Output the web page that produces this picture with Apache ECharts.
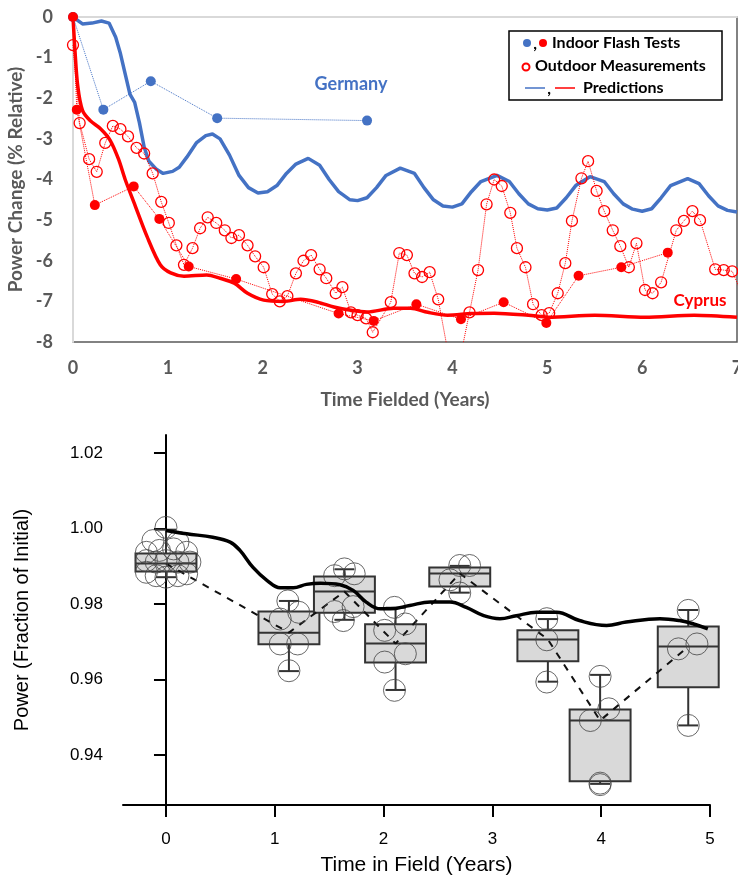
<!DOCTYPE html>
<html>
<head>
<meta charset="utf-8">
<script src="https://cdn.jsdelivr.net/npm/echarts@6/dist/echarts.min.js"></script>
<style>
  html, body { margin: 0; padding: 0; background: #fff; }
  #chart { width: 738px; height: 875px; }
</style>
</head>
<body>
<div id="chart"></div>
<script>
// ---- top panel: power change vs time fielded ----
var germanyPred = [[0,0],[0.1,-0.17],[0.2,-0.15],[0.3,-0.1],[0.38,-0.15],[0.45,-0.5],[0.5,-0.9],[0.55,-1.4],[0.6,-1.9],[0.65,-2.1],[0.7,-2.6],[0.75,-3.2],[0.8,-3.55],[0.88,-3.75],[0.95,-3.85],[1.05,-3.8],[1.12,-3.7],[1.2,-3.45],[1.3,-3.1],[1.4,-2.92],[1.47,-2.88],[1.55,-3.0],[1.65,-3.4],[1.75,-3.9],[1.85,-4.2],[1.95,-4.33],[2.05,-4.3],[2.15,-4.15],[2.25,-3.85],[2.35,-3.62],[2.48,-3.48],[2.6,-3.65],[2.7,-4.0],[2.8,-4.3],[2.92,-4.5],[3.0,-4.52],[3.1,-4.45],[3.2,-4.2],[3.3,-3.9],[3.45,-3.72],[3.6,-3.85],[3.7,-4.2],[3.8,-4.5],[3.9,-4.65],[4.0,-4.68],[4.1,-4.6],[4.2,-4.3],[4.3,-4.05],[4.47,-3.9],[4.6,-4.05],[4.7,-4.35],[4.8,-4.6],[4.9,-4.72],[5.0,-4.75],[5.1,-4.7],[5.2,-4.45],[5.3,-4.15],[5.45,-3.93],[5.6,-4.05],[5.7,-4.35],[5.8,-4.6],[5.9,-4.73],[6.0,-4.78],[6.1,-4.72],[6.2,-4.45],[6.3,-4.15],[6.48,-3.98],[6.6,-4.1],[6.7,-4.4],[6.8,-4.65],[6.9,-4.76],[7.0,-4.8]];
var cyprusPred = [[0,0],[0.02,-0.8],[0.05,-1.7],[0.1,-2.3],[0.18,-2.55],[0.29,-2.75],[0.39,-3.03],[0.48,-3.5],[0.55,-4.0],[0.64,-4.55],[0.78,-5.4],[0.92,-6.1],[1.03,-6.3],[1.17,-6.38],[1.41,-6.35],[1.55,-6.43],[1.7,-6.55],[1.84,-6.8],[2.01,-6.97],[2.22,-7.0],[2.4,-6.95],[2.58,-7.02],[2.75,-7.14],[2.93,-7.22],[3.1,-7.26],[3.38,-7.17],[3.56,-7.17],[3.74,-7.27],[3.95,-7.34],[4.2,-7.3],[4.44,-7.29],[4.8,-7.34],[5.01,-7.39],[5.5,-7.34],[6.03,-7.39],[6.55,-7.34],[7.0,-7.39]];
var germanyFlash = [[0,0],[0.32,-2.28],[0.82,-1.58],[1.52,-2.49],[3.1,-2.55]];
var cyprusFlash = [[0,0],[0.04,-2.28],[0.23,-4.63],[0.64,-4.17],[0.91,-4.97],[1.22,-6.14],[1.72,-6.45],[2.8,-7.3],[3.17,-7.48],[3.62,-7.07],[4.09,-7.44],[4.54,-7.02],[4.99,-7.53],[5.33,-6.37],[5.78,-6.16],[6.27,-5.8]];
var cyprusOutdoor = [[0,-0.69],[0.07,-2.61],[0.17,-3.5],[0.25,-3.81],[0.34,-3.1],[0.42,-2.68],[0.5,-2.76],[0.58,-2.94],[0.67,-3.22],[0.75,-3.36],[0.84,-3.85],[0.93,-4.55],[1.01,-5.07],[1.09,-5.62],[1.17,-6.1],[1.26,-5.69],[1.34,-5.2],[1.42,-4.93],[1.51,-5.07],[1.6,-5.25],[1.67,-5.44],[1.75,-5.37],[1.84,-5.62],[1.92,-5.89],[2.01,-6.16],[2.1,-6.82],[2.18,-7.0],[2.26,-6.87],[2.35,-6.31],[2.43,-6.0],[2.51,-5.86],[2.6,-6.21],[2.67,-6.43],[2.77,-6.8],[2.84,-6.65],[2.93,-7.27],[3.0,-7.34],[3.09,-7.42],[3.16,-7.76],[3.35,-7.02],[3.44,-5.81],[3.52,-5.86],[3.6,-6.31],[3.68,-6.4],[3.76,-6.28],[3.85,-6.95],[4.02,-9.1],[4.18,-7.27],[4.27,-6.23],[4.36,-4.61],[4.44,-4.0],[4.52,-4.16],[4.61,-4.82],[4.68,-5.69],[4.77,-6.16],[4.85,-7.07],[4.94,-7.34],[5.02,-7.29],[5.11,-6.8],[5.19,-6.06],[5.26,-5.02],[5.36,-3.97],[5.43,-3.55],[5.52,-4.28],[5.6,-4.78],[5.69,-5.25],[5.77,-5.64],[5.86,-6.16],[5.94,-5.57],[6.03,-6.72],[6.11,-6.8],[6.2,-6.53],[6.36,-5.25],[6.44,-5.02],[6.53,-4.78],[6.61,-5.0],[6.77,-6.21],[6.86,-6.23],[6.95,-6.26],[7.04,-6.75]];

// ---- bottom panel: power fraction vs time in field ----
var xTicks = [0, 1, 2, 3, 4, 5];
var yTicks = [0.94, 0.96, 0.98, 1.00, 1.02];
// [year, whisker low, q1, median, q3, whisker high]
var boxStats = [
  [0, 0.9871, 0.9886, 0.9907, 0.9934, 0.9997],
  [1.13, 0.9622, 0.9693, 0.9724, 0.9780, 0.9808],
  [1.64, 0.9758, 0.9777, 0.9833, 0.9873, 0.9892],
  [2.11, 0.9572, 0.9645, 0.9695, 0.9746, 0.9790],
  [2.70, 0.9830, 0.9846, 0.9881, 0.9897, 0.9901],
  [3.51, 0.9594, 0.9648, 0.9706, 0.9730, 0.9760],
  [3.99, 0.9323, 0.9330, 0.9491, 0.9520, 0.9612],
  [4.80, 0.9478, 0.9579, 0.9687, 0.9740, 0.9784]
];
var fieldPoints = [
  [0.0,1.0003],[-0.12,0.9968],[0.11,0.9964],[-0.18,0.9937],[-0.06,0.9942],[0.07,0.9946],[0.19,0.9937],
  [-0.18,0.9915],[-0.09,0.9911],[0.0,0.9915],[0.11,0.9911],[0.22,0.9911],
  [-0.18,0.9884],[-0.09,0.9875],[0.0,0.9871],[0.11,0.9875],[0.19,0.9880],
  [1.12,0.9808],[1.22,0.9778],[1.05,0.9760],[1.05,0.9694],[1.21,0.9694],[1.13,0.9623],
  [1.64,0.9893],[1.55,0.9875],[1.73,0.9880],[1.55,0.9780],[1.72,0.9793],[1.63,0.9756],
  [2.10,0.9791],[2.01,0.9730],[2.20,0.9747],[2.01,0.9646],[2.20,0.9668],[2.10,0.9571],
  [2.70,0.9902],[2.79,0.9902],[2.61,0.9864],[2.70,0.9829],
  [3.50,0.9761],[3.50,0.9705],[3.50,0.9593],
  [3.99,0.9608],[4.07,0.9522],[3.90,0.9491],[3.99,0.9325],[3.99,0.9321],
  [4.80,0.9783],[4.88,0.9694],[4.71,0.9681],[4.80,0.9478]
];
var fieldPred = [[0.0,0.9995],[0.19,0.9986],[0.43,0.9977],[0.59,0.9964],[0.68,0.9942],[0.8,0.9897],[0.93,0.9862],[1.05,0.9843],[1.17,0.9843],[1.29,0.9852],[1.42,0.9855],[1.6,0.9851],[1.72,0.9836],[1.84,0.9805],[1.97,0.9787],[2.06,0.9787],[2.24,0.9796],[2.43,0.9805],[2.61,0.9805],[2.76,0.9791],[2.92,0.9769],[3.07,0.9761],[3.22,0.9769],[3.41,0.9778],[3.59,0.9778],[3.8,0.9756],[4.05,0.9743],[4.23,0.9752],[4.54,0.9761],[4.72,0.9756],[4.85,0.9747],[4.98,0.9734]];

var blue = '#4472C4';
var red = '#FF0000';
var gray = '#595959';
var boxWidth = 0.56;

var medians = boxStats.map(function (b) { return [b[0], b[3]]; });

var chart = echarts.init(document.getElementById('chart'));

function renderBox(params, api) {
  var x = api.value(0);
  var lo = api.coord([x, api.value(1)]);
  var q1 = api.coord([x, api.value(2)]);
  var md = api.coord([x, api.value(3)]);
  var q3 = api.coord([x, api.value(4)]);
  var hi = api.coord([x, api.value(5)]);
  var w = api.size([boxWidth, 0])[0];
  var c = 10;
  var st = { stroke: '#333', lineWidth: 2 };
  return {
    type: 'group',
    children: [
      { type: 'line', shape: { x1: hi[0], y1: hi[1], x2: q3[0], y2: q3[1] }, style: st },
      { type: 'line', shape: { x1: q1[0], y1: q1[1], x2: lo[0], y2: lo[1] }, style: st },
      { type: 'line', shape: { x1: hi[0] - c, y1: hi[1], x2: hi[0] + c, y2: hi[1] }, style: st },
      { type: 'line', shape: { x1: lo[0] - c, y1: lo[1], x2: lo[0] + c, y2: lo[1] }, style: st },
      { type: 'rect', shape: { x: q3[0] - w / 2, y: q3[1], width: w, height: q1[1] - q3[1] },
        style: { fill: '#d9d9d9', stroke: '#333', lineWidth: 2 } },
      { type: 'line', shape: { x1: md[0] - w / 2, y1: md[1], x2: md[0] + w / 2, y2: md[1] }, style: st }
    ]
  };
}

var topFont = 'Lato';
var botFont = 'Liberation Sans';

chart.setOption({
  animation: false,
  backgroundColor: '#fff',
  grid: [
    { left: 73, top: 17, right: 1, bottom: 533, outerBoundsMode: 'none', show: true, borderColor: '#595959', borderWidth: 1.5 },
    { left: 123, top: 435, right: 28, bottom: 70, outerBoundsMode: 'none' }
  ],
  xAxis: [
    {
      gridIndex: 0, type: 'value', min: 0, max: 7, interval: 1,
      name: 'Time Fielded (Years)', nameLocation: 'middle', nameGap: 48,
      nameTextStyle: { fontFamily: topFont, fontWeight: 'bold', fontSize: 19, color: gray },
      axisLine: { show: true, lineStyle: { color: '#d9d9d9', width: 2 } },
      axisTick: { show: false },
      splitLine: { show: false },
      axisLabel: { fontFamily: topFont, fontWeight: 'bold', fontSize: 18, color: gray, margin: 17 }
    },
    {
      gridIndex: 1, type: 'value', min: -0.395, max: 5,
      name: 'Time in Field (Years)', nameLocation: 'middle', nameGap: 50,
      nameTextStyle: { fontFamily: botFont, fontSize: 21, color: '#000' },
      axisLine: { show: true, lineStyle: { color: '#000', width: 2 } },
      axisTick: { show: true, customValues: xTicks, length: 12, lineStyle: { color: '#000', width: 2 } },
      axisLabel: { customValues: xTicks, fontFamily: botFont, fontSize: 17, color: '#000', margin: 26 },
      splitLine: { show: false }
    }
  ],
  yAxis: [
    {
      gridIndex: 0, type: 'value', min: -8, max: 0, interval: 1,
      name: 'Power Change (% Relative)', nameLocation: 'middle', nameGap: 45,
      nameTextStyle: { fontFamily: topFont, fontWeight: 'bold', fontSize: 19, color: gray },
      axisLine: { show: true, lineStyle: { color: '#d9d9d9', width: 2 } },
      axisTick: { show: false },
      splitLine: { show: false },
      axisLabel: { fontFamily: topFont, fontWeight: 'bold', fontSize: 18, color: gray, margin: 20 }
    },
    {
      gridIndex: 1, type: 'value', min: 0.9267, max: 1.0248,
      name: 'Power (Fraction of Initial)', nameLocation: 'middle', nameGap: 91,
      nameTextStyle: { fontFamily: botFont, fontSize: 20, color: '#000' },
      axisLine: { show: true, lineStyle: { color: '#000', width: 2 } },
      axisTick: { show: true, customValues: yTicks, length: 12, lineStyle: { color: '#000', width: 2 } },
      axisLabel: {
        customValues: yTicks, fontFamily: botFont, fontSize: 17, color: '#000', margin: 20,
        formatter: function (v) { return v.toFixed(2); }
      },
      splitLine: { show: false }
    }
  ],
  series: [
    {
      type: 'line', xAxisIndex: 0, yAxisIndex: 0, data: germanyFlash, z: 3,
      symbol: 'circle', symbolSize: 10, itemStyle: { color: blue },
      lineStyle: { color: blue, width: 1, type: 'dotted' }
    },
    {
      type: 'line', xAxisIndex: 0, yAxisIndex: 0, data: cyprusOutdoor, z: 3,
      symbol: 'circle', symbolSize: 11,
      itemStyle: { color: 'rgba(255,255,255,0)', borderColor: red, borderWidth: 1.3 },
      lineStyle: { color: red, width: 1, type: 'dotted' }
    },
    {
      type: 'line', xAxisIndex: 0, yAxisIndex: 0, data: cyprusFlash, z: 4,
      symbol: 'circle', symbolSize: 10, itemStyle: { color: red },
      lineStyle: { color: red, width: 1, type: 'dotted' }
    },
    {
      type: 'line', xAxisIndex: 0, yAxisIndex: 0, data: germanyPred, z: 2,
      symbol: 'none', lineStyle: { color: blue, width: 3.5 }
    },
    {
      type: 'line', xAxisIndex: 0, yAxisIndex: 0, data: cyprusPred, z: 2, smooth: 0.3,
      symbol: 'none', lineStyle: { color: red, width: 3.5 }
    },
    {
      type: 'custom', xAxisIndex: 1, yAxisIndex: 1, data: boxStats, z: 2,
      encode: { x: 0, y: [1, 2, 3, 4, 5] },
      renderItem: renderBox
    },
    {
      type: 'line', xAxisIndex: 1, yAxisIndex: 1, data: medians, z: 3,
      symbol: 'none', lineStyle: { color: '#111', width: 2, type: [7, 7] }
    },
    {
      type: 'scatter', xAxisIndex: 1, yAxisIndex: 1, data: fieldPoints, z: 4,
      symbol: 'circle', symbolSize: 22,
      itemStyle: { color: 'rgba(0,0,0,0)', borderColor: '#444', borderWidth: 1 }
    },
    {
      type: 'line', xAxisIndex: 1, yAxisIndex: 1, data: fieldPred, z: 5, smooth: 0.4,
      symbol: 'none', lineStyle: { color: '#000', width: 3.5 }
    }
  ],
  graphic: [
    { type: 'text', x: 351, y: 84, z: 10, style: { text: 'Germany', fill: blue, font: 'bold 18px Lato', align: 'center', verticalAlign: 'middle' } },
    { type: 'text', x: 700, y: 301, z: 10, style: { text: 'Cyprus', fill: red, font: 'bold 17px Lato', align: 'center', verticalAlign: 'middle' } },
    { type: 'rect', z: 10, shape: { x: 509, y: 31, width: 213, height: 69 }, style: { fill: '#fff', stroke: '#000', lineWidth: 1.5 } },
    { type: 'circle', z: 11, shape: { cx: 527, cy: 43, r: 4 }, style: { fill: blue } },
    { type: 'text', z: 11, x: 535, y: 44, style: { text: ',', fill: '#000', font: 'bold 16px Lato', align: 'center', verticalAlign: 'middle' } },
    { type: 'circle', z: 11, shape: { cx: 543, cy: 43, r: 4 }, style: { fill: red } },
    { type: 'text', z: 11, x: 552, y: 43, style: { text: 'Indoor Flash Tests', fill: '#000', font: 'bold 16px Lato', verticalAlign: 'middle' } },
    { type: 'circle', z: 11, shape: { cx: 526, cy: 67, r: 3.5 }, style: { fill: 'none', stroke: red, lineWidth: 2 } },
    { type: 'text', z: 11, x: 535, y: 66, style: { text: 'Outdoor Measurements', fill: '#000', font: 'bold 16px Lato', verticalAlign: 'middle' } },
    { type: 'line', z: 11, shape: { x1: 525, y1: 88, x2: 545, y2: 88 }, style: { stroke: blue, lineWidth: 1.5 } },
    { type: 'text', z: 11, x: 549, y: 89, style: { text: ',', fill: '#000', font: 'bold 16px Lato', align: 'center', verticalAlign: 'middle' } },
    { type: 'line', z: 11, shape: { x1: 555, y1: 88, x2: 575, y2: 88 }, style: { stroke: red, lineWidth: 1.5 } },
    { type: 'text', z: 11, x: 583, y: 88, style: { text: 'Predictions', fill: '#000', font: 'bold 16px Lato', verticalAlign: 'middle' } }
  ]
});
</script>
</body>
</html>
